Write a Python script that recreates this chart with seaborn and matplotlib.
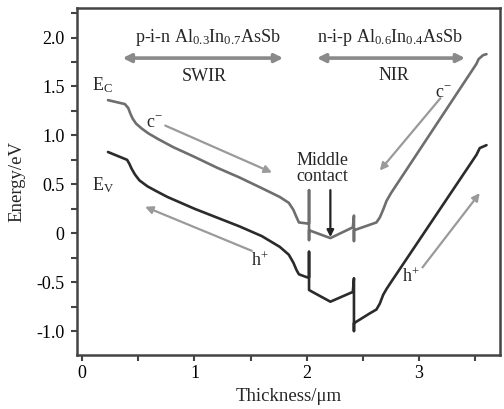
import matplotlib
matplotlib.use("Agg")
import matplotlib.pyplot as plt
import seaborn as sns
import pandas as pd
from matplotlib.ticker import MultipleLocator

# conduction band edge (Ec)
ec_x = [0.23, 0.38, 0.41, 0.43, 0.45, 0.48, 0.53, 0.59, 0.68, 0.81, 1.00, 1.20, 1.40, 1.60, 1.76,
        1.84, 1.88, 1.91, 1.93, 2.00, 2.02, 2.02, 2.02, 2.02, 2.21, 2.41, 2.42, 2.42, 2.42,
        2.62, 2.65, 2.68, 2.71, 2.75, 3.51, 3.53, 3.57, 3.60]
ec_y = [1.36, 1.32, 1.28, 1.22, 1.17, 1.12, 1.07, 1.02, 0.96, 0.88, 0.78, 0.67, 0.57, 0.46, 0.37,
        0.31, 0.24, 0.16, 0.11, 0.10, 0.10, 0.44, -0.07, 0.03, -0.05, 0.06, 0.18, -0.08, 0.03,
        0.11, 0.16, 0.24, 0.33, 0.41, 1.73, 1.78, 1.82, 1.83]

# valence band edge (Ev)
ev_x = [0.23, 0.40, 0.42, 0.44, 0.47, 0.51, 0.58, 0.66, 0.76, 1.00, 1.20, 1.40, 1.60, 1.76,
        1.84, 1.88, 1.91, 1.93, 2.00, 2.02, 2.02, 2.02, 2.05, 2.21, 2.41, 2.42, 2.42, 2.42,
        2.56, 2.62, 2.65, 2.68, 2.71, 2.75, 3.51, 3.54, 3.60]
ev_y = [0.83, 0.75, 0.71, 0.66, 0.60, 0.54, 0.48, 0.43, 0.37, 0.25, 0.16, 0.07, -0.03, -0.14,
        -0.22, -0.30, -0.38, -0.42, -0.45, -0.45, -0.19, -0.58, -0.60, -0.70, -0.60, -0.46, -1.00, -0.92,
        -0.82, -0.78, -0.72, -0.63, -0.57, -0.50, 0.80, 0.87, 0.90]

x_ticks = [0, 1, 2, 3]
y_ticks = [-1.0, -0.5, 0, 0.5, 1.0, 1.5, 2.0]
y_tick_labels = ["-1.0", "-0.5", "0", "0.5", "1.0", "1.5", "2.0"]

sns.set_style("ticks")
plt.rcParams["font.family"] = ["Liberation Serif", "DejaVu Serif"]
plt.rcParams["mathtext.fontset"] = "custom"
plt.rcParams["mathtext.rm"] = "Liberation Serif"
plt.rcParams["mathtext.it"] = "Liberation Serif:italic"

ec = pd.DataFrame({"x": ec_x, "y": ec_y})
ev = pd.DataFrame({"x": ev_x, "y": ev_y})

fig = plt.figure(figsize=(5.04, 4.09), dpi=100)
ax = fig.add_axes([0.153, 0.132, 0.839, 0.848])

sns.lineplot(data=ec, x="x", y="y", sort=False, estimator=None, color="#6e6e6e", lw=1.9, ax=ax)
sns.lineplot(data=ev, x="x", y="y", sort=False, estimator=None, color="#2b2b2b", lw=1.9, ax=ax)

ax.set_xlim(-0.045, 3.72)
ax.set_ylim(-1.245, 2.3)
ax.set_xticks(x_ticks)
ax.set_yticks(y_ticks)
ax.set_yticklabels(y_tick_labels)
ax.xaxis.set_minor_locator(MultipleLocator(0.5))
ax.yaxis.set_minor_locator(MultipleLocator(0.25))
ax.tick_params(which="both", direction="out", length=4, width=1.5, color="#444444",
               labelsize=13, labelcolor="black")
ax.tick_params(axis="y", pad=5)
for s in ax.spines.values():
    s.set_color("#444444")
    s.set_linewidth(1.8)

ax.set_xlabel("Thickness/μm", fontsize=13.5, labelpad=4)
ax.set_ylabel("Energy/eV", fontsize=13.5, labelpad=8)

# region labels and double arrows
ax.text(1.12, 2.0, "p-i-n Al$_{\\mathregular{0.3}}$In$_{\\mathregular{0.7}}$AsSb",
        ha="center", va="center", fontsize=13)
ax.text(2.74, 2.0, "n-i-p Al$_{\\mathregular{0.6}}$In$_{\\mathregular{0.4}}$AsSb",
        ha="center", va="center", fontsize=13)
ax.text(1.09, 1.60, "SWIR", ha="center", va="center", fontsize=13)
ax.text(2.78, 1.61, "NIR", ha="center", va="center", fontsize=13)
dbl = dict(arrowstyle="<|-|>", color="#8a8a8a", lw=2.6, mutation_scale=12, shrinkA=0, shrinkB=0)
ax.annotate("", xy=(0.36, 1.79), xytext=(1.79, 1.79), arrowprops=dbl)
ax.annotate("", xy=(2.09, 1.79), xytext=(3.41, 1.79), arrowprops=dbl)

# band labels
ax.text(0.09, 1.51, "E$_{\\mathregular{C}}$", ha="left", va="center", fontsize=13)
ax.text(0.09, 0.49, "E$_{\\mathregular{V}}$", ha="left", va="center", fontsize=13)

# carrier arrows
car = dict(arrowstyle="-|>", color="#9a9a9a", lw=1.6, mutation_scale=11, shrinkA=0, shrinkB=0)
ax.annotate("", xy=(1.69, 0.62), xytext=(0.74, 1.10), arrowprops=car)
ax.annotate("", xy=(0.56, 0.27), xytext=(1.51, -0.18), arrowprops=car)
ax.annotate("", xy=(2.65, 0.64), xytext=(3.19, 1.38), arrowprops=car)
ax.annotate("", xy=(3.54, 0.41), xytext=(3.03, -0.35), arrowprops=car)
ax.text(0.64, 1.13, "c$^{\\mathregular{-}}$", ha="center", va="center", fontsize=13)
ax.text(1.58, -0.28, "h$^{\\mathregular{+}}$", ha="center", va="center", fontsize=13)
ax.text(3.22, 1.43, "c$^{\\mathregular{-}}$", ha="center", va="center", fontsize=13)
ax.text(2.93, -0.44, "h$^{\\mathregular{+}}$", ha="center", va="center", fontsize=13)

# middle contact
ax.text(2.14, 0.66, "Middle\ncontact", ha="center", va="center", fontsize=13, linespacing=0.95)
ax.annotate("", xy=(2.21, -0.04), xytext=(2.21, 0.44),
            arrowprops=dict(arrowstyle="-|>", color="#222222", lw=1.6, mutation_scale=10,
                            shrinkA=0, shrinkB=0))

fig.savefig("out.png", dpi=100)
